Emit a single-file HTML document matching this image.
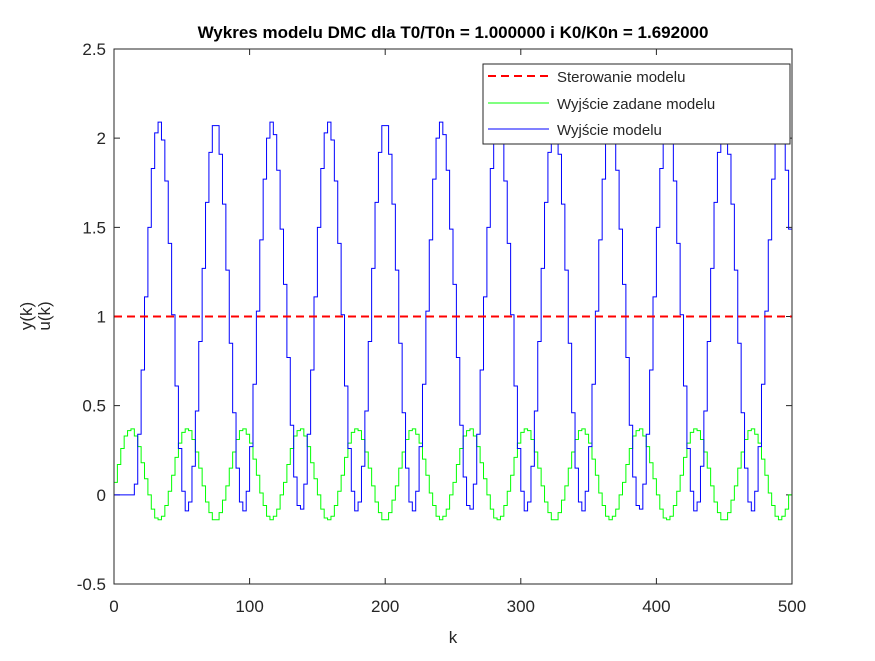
<!DOCTYPE html>
<html><head><meta charset="utf-8"><style>
html,body{margin:0;padding:0;background:#fff;}
svg text{font-family:"Liberation Sans",Arial,sans-serif;fill:#262626;}
</style></head><body>
<svg id="chart" width="875" height="656" viewBox="0 0 875 656" xmlns="http://www.w3.org/2000/svg">
<rect x="0" y="0" width="875" height="656" fill="#fff"/>
<rect x="114" y="49" width="678" height="535" fill="#fff"/>
<text x="453" y="38" text-anchor="middle" font-size="17" font-weight="bold" fill="#000" style="fill:#000">Wykres modelu DMC dla T0/T0n = 1.000000 i K0/K0n = 1.692000</text>
<g id="ticks"></g>
<defs><clipPath id="clip"><rect x="114" y="49" width="678" height="535"/></clipPath></defs>
<g id="series" clip-path="url(#clip)"></g>
<rect x="114" y="49" width="678" height="535" fill="none" stroke="#262626" stroke-width="1"/>
<text x="453" y="643" text-anchor="middle" font-size="17">k</text>
<g transform="translate(38,316) rotate(-90)">
<text x="0" y="-6" text-anchor="middle" font-size="17">y(k)</text>
<text x="0" y="12" text-anchor="middle" font-size="17">u(k)</text>
</g>
<g>
<rect x="483" y="64" width="307" height="80" fill="#fff" stroke="#262626" stroke-width="1"/>
<line x1="488" y1="76" x2="549" y2="76" stroke="#ff0000" stroke-width="2" stroke-dasharray="8,5"/>
<text x="557" y="82" font-size="15">Sterowanie modelu</text>
<line x1="488" y1="103" x2="549" y2="103" stroke="#00ff00" stroke-width="1"/>
<text x="557" y="109" font-size="15">Wyjście zadane modelu</text>
<line x1="488" y1="129" x2="549" y2="129" stroke="#0000ff" stroke-width="1"/>
<text x="557" y="135" font-size="15">Wyjście modelu</text>
</g>
</svg>
<script>
const xTicks=[0,100,200,300,400,500];
const yTicks=[-0.5,0,0.5,1,1.5,2,2.5];
const yTickLabels=["-0.5","0","0.5","1","1.5","2","2.5"];
const sampleStep=2.5;
const controlValue=1;
const outputValues=[
0,0,0,0,0,0,0.06,0.34,0.70,1.11,1.50,1.83,2.03,2.09,1.99,1.76,1.41,1.01,0.61,0.26,0.02,-0.09,-0.04,0.16,0.47,0.86,1.27,1.64,1.92,2.07,2.07,1.91,1.63,1.26,0.85,0.46,0.15,-0.04,-0.09,0.02,0.27,0.62,1.03,1.43,1.77,2.00,2.09,2.02,1.82,1.49,
1.18,0.77,0.39,0.10,-0.06,-0.08,0.06,0.34,0.70,1.11,1.50,1.83,2.03,2.09,1.99,1.76,1.41,1.01,0.61,0.26,0.02,-0.09,-0.04,0.16,0.47,0.86,1.27,1.64,1.92,2.07,2.07,1.91,1.63,1.26,0.85,0.46,0.15,-0.04,-0.09,0.02,0.27,0.62,1.03,1.43,1.77,2.00,2.09,2.02,1.82,1.49,
1.18,0.77,0.39,0.10,-0.06,-0.08,0.06,0.34,0.70,1.11,1.50,1.83,2.03,2.09,1.99,1.76,1.41,1.01,0.61,0.26,0.02,-0.09,-0.04,0.16,0.47,0.86,1.27,1.64,1.92,2.07,2.07,1.91,1.63,1.26,0.85,0.46,0.15,-0.04,-0.09,0.02,0.27,0.62,1.03,1.43,1.77,2.00,2.09,2.02,1.82,1.49,
1.18,0.77,0.39,0.10,-0.06,-0.08,0.06,0.34,0.70,1.11,1.50,1.83,2.03,2.09,1.99,1.76,1.41,1.01,0.61,0.26,0.02,-0.09,-0.04,0.16,0.47,0.86,1.27,1.64,1.92,2.07,2.07,1.91,1.63,1.26,0.85,0.46,0.15,-0.04,-0.09,0.02,0.27,0.62,1.03,1.43,1.77,2.00,2.09,2.02,1.82,1.49,
1.00];
const setpointValues=[
0.07,0.17,0.26,0.33,0.36,0.37,0.33,0.27,0.18,0.09,0.00,-0.08,-0.13,-0.14,-0.12,-0.06,0.02,0.11,0.21,0.29,0.35,0.37,0.36,0.31,0.24,0.15,0.05,-0.04,-0.10,-0.14,-0.14,-0.10,-0.03,0.05,0.15,0.24,0.31,0.36,0.37,0.34,0.29,0.20,0.11,0.01,-0.06,-0.12,-0.14,-0.12,-0.08,0.00,
0.07,0.17,0.26,0.33,0.36,0.37,0.33,0.27,0.18,0.09,0.00,-0.08,-0.13,-0.14,-0.12,-0.06,0.02,0.11,0.21,0.29,0.35,0.37,0.36,0.31,0.24,0.15,0.05,-0.04,-0.10,-0.14,-0.14,-0.10,-0.03,0.05,0.15,0.24,0.31,0.36,0.37,0.34,0.29,0.20,0.11,0.01,-0.06,-0.12,-0.14,-0.12,-0.08,0.00,
0.07,0.17,0.26,0.33,0.36,0.37,0.33,0.27,0.18,0.09,0.00,-0.08,-0.13,-0.14,-0.12,-0.06,0.02,0.11,0.21,0.29,0.35,0.37,0.36,0.31,0.24,0.15,0.05,-0.04,-0.10,-0.14,-0.14,-0.10,-0.03,0.05,0.15,0.24,0.31,0.36,0.37,0.34,0.29,0.20,0.11,0.01,-0.06,-0.12,-0.14,-0.12,-0.08,0.00,
0.07,0.17,0.26,0.33,0.36,0.37,0.33,0.27,0.18,0.09,0.00,-0.08,-0.13,-0.14,-0.12,-0.06,0.02,0.11,0.21,0.29,0.35,0.37,0.36,0.31,0.24,0.15,0.05,-0.04,-0.10,-0.14,-0.14,-0.10,-0.03,0.05,0.15,0.24,0.31,0.36,0.37,0.34,0.29,0.20,0.11,0.01,-0.06,-0.12,-0.14,-0.12,-0.08,0.00,
0.11];

const NS='http://www.w3.org/2000/svg';
const X0=114,X1=792,Y0=584,Y1=49;
function xs(k){return X0+(k-0)/(500-0)*(X1-X0);}
function ys(v){return Y0-(v-(-0.5))/(2.5-(-0.5))*(Y0-Y1);}
const tg=document.getElementById('ticks');
xTicks.forEach(function(t){
  const x=xs(t);
  const l=document.createElementNS(NS,'path');
  l.setAttribute('d','M'+x+' '+Y0+'V'+(Y0-6)+'M'+x+' '+Y1+'V'+(Y1+6));
  l.setAttribute('stroke','#262626');
  
  
  tg.appendChild(l);
  const tx=document.createElementNS(NS,'text');
  tx.setAttribute('x',x);tx.setAttribute('y',612);
  tx.setAttribute('text-anchor','middle');tx.setAttribute('font-size','17');
  tx.textContent=String(t);
  
  
  tg.appendChild(tx);
});
yTicks.forEach(function(t,i){
  const y=ys(t);
  const l=document.createElementNS(NS,'path');
  l.setAttribute('d','M'+X0+' '+y+'H'+(X0+6)+'M'+X1+' '+y+'H'+(X1-6));
  l.setAttribute('stroke','#262626');
  
  
  tg.appendChild(l);
  const tx=document.createElementNS(NS,'text');
  tx.setAttribute('x',X0-8);tx.setAttribute('y',y+6);
  tx.setAttribute('text-anchor','end');tx.setAttribute('font-size','17');
  tx.textContent=yTickLabels[i];
  
  
  tg.appendChild(tx);
});
function stairs(vals){
  let d='';
  for(let i=0;i<vals.length;i++){
    const x=xs(i*sampleStep),xn=xs((i+1)*sampleStep),y=ys(vals[i]);
    d+=(i===0?'M':'L')+x.toFixed(2)+' '+y.toFixed(2)+'L'+xn.toFixed(2)+' '+y.toFixed(2);
  }
  return d;
}
const sg=document.getElementById('series');
const pg=document.createElementNS(NS,'path');
pg.setAttribute('d',stairs(setpointValues));
pg.setAttribute('fill','none');pg.setAttribute('stroke','#00ff00');pg.setAttribute('stroke-width','1');


sg.appendChild(pg);
const pb=document.createElementNS(NS,'path');
pb.setAttribute('d',stairs(outputValues));
pb.setAttribute('fill','none');pb.setAttribute('stroke','#0000ff');pb.setAttribute('stroke-width','1');


sg.appendChild(pb);
const pr=document.createElementNS(NS,'line');
pr.setAttribute('x1',xs(0));pr.setAttribute('x2',xs(500));
pr.setAttribute('y1',ys(controlValue));pr.setAttribute('y2',ys(controlValue));
pr.setAttribute('stroke','#ff0000');pr.setAttribute('stroke-width','2');pr.setAttribute('stroke-dasharray','8,5');


sg.appendChild(pr);
</script>
</body></html>
